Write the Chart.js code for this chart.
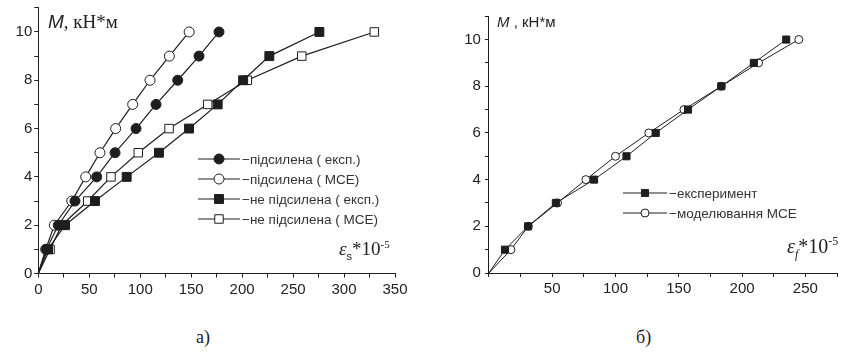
<!DOCTYPE html>
<html>
<head>
<meta charset="utf-8">
<script src="https://cdn.jsdelivr.net/npm/chart.js@4"></script>
<style>
  body { margin: 0; background: #fff; }
  #wrap { position: relative; width: 843px; height: 358px; overflow: hidden; }
  canvas { position: absolute; top: 0; }
  .lbl { position: absolute; color: #222; white-space: nowrap; line-height: 1; }
  .serif { font-family: "Liberation Serif", "DejaVu Serif", serif; }
  .sans { font-family: "Liberation Sans", Arial, sans-serif; }
  sub, sup { line-height: 0; }
</style>
</head>
<body>
<div id="wrap">
  <canvas id="left" width="420" height="300" style="left:0px"></canvas>
  <canvas id="right" width="413" height="300" style="left:430px"></canvas>

  <div class="lbl" style="left:48px; top:12px; font-size:19px;"><i class="sans">M</i><span class="serif">, кН*м</span></div>
  <div class="lbl sans" style="left:497px; top:14px; font-size:15px;"><i>M</i> , кН*м</div>

  <div class="lbl serif" style="left:339px; top:239px; font-size:19px;"><i>ε</i><sub class="sans" style="font-size:11px">s</sub>*10<sup style="font-size:11px">-5</sup></div>
  <div class="lbl serif" style="left:787px; top:236px; font-size:20px;"><i>ε</i><sub style="font-size:12px"><i>f</i></sub>*10<sup style="font-size:12px">-5</sup></div>

  <div class="lbl serif" style="left:196px; top:328px; font-size:18px;">а)</div>
  <div class="lbl serif" style="left:636px; top:328px; font-size:18px;">б)</div>
</div>
<script>
// bending moment levels, kN*m (same for every series)
const moment = [0, 1, 2, 3, 4, 5, 6, 7, 8, 9, 10];

// a) strain eps_s * 10^-5
const reinfExp   = [0, 8, 19.6, 36, 57.3, 75.3, 95.9, 115.5, 136.8, 157.7, 177.3];
const reinfFem   = [0, 7.2, 15.7, 32.8, 46.5, 60.5, 75.9, 92.6, 109.6, 128.6, 148];
const unreinfExp = [0, 9.5, 26.2, 55.6, 86.7, 118.4, 147.9, 176, 201, 226.7, 275.8];
const unreinfFem = [0, 11.5, 23, 48.5, 71.3, 98.1, 128.3, 166.2, 205.1, 258.5, 329.7];
const leftNames = ['−підсилена ( експ.)', '−підсилена ( МСЕ)', '−не підсилена ( експ.)', '−не підсилена ( МСЕ)'];

// б) strain eps_f * 10^-5
const fibreExp = [0, 12.7, 31, 52.9, 83.1, 108.7, 131.8, 157.3, 183.6, 209.3, 234.9];
const fibreFem = [0, 17.4, 31.1, 54.2, 76.6, 100, 126.3, 154.1, 183.6, 213, 244.8];
const rightNames = ['−експеримент', '−моделювання МСЕ'];

const ink = '#1e1e1e';
const tickFont = { family: '"Liberation Sans", Arial, sans-serif', size: 15 };

const pts = (xs) => xs.map((v, i) => ({ x: v, y: moment[i] }));

const series = (label, xs, style, filled, r, bw) => ({
    label: label,
    data: pts(xs),
    borderColor: ink,
    borderWidth: bw,
    pointStyle: style,
    pointBackgroundColor: filled ? ink : '#fff',
    pointBorderColor: ink,
    pointBorderWidth: 1,
    pointRadius: (c) => c.dataIndex === 0 ? 0 : r,
    legendRadius: r,
    tension: 0,
    clip: false
})

// legend drawn by hand: line with marker in the middle, text to the right
const sideLegend = {
    id: 'sideLegend',
    afterDraw(chart, args, o) {
        const ctx = chart.ctx
        ctx.save()
        chart.data.datasets.forEach((ds, i) => {
            const y = o.top + i * o.gap
            ctx.strokeStyle = ink
            ctx.lineWidth = ds.borderWidth
            ctx.beginPath()
            ctx.moveTo(o.left, y)
            ctx.lineTo(o.left + o.len, y)
            ctx.stroke()
            ctx.fillStyle = ds.pointBackgroundColor
            ctx.strokeStyle = ink
            ctx.lineWidth = 1
            Chart.helpers.drawPoint(ctx, { pointStyle: ds.pointStyle, radius: ds.legendRadius, rotation: 0, borderWidth: 1 }, o.left + o.len / 2, y)
            ctx.fillStyle = '#333'
            ctx.font = o.font
            ctx.textBaseline = 'middle'
            ctx.fillText(ds.label, o.left + o.len + 2, y + 1)
        })
        ctx.restore()
    }
}

const axes = (xMax, xLabel, yWidth, xHeight, tickPad) => ({
    x: {
        type: 'linear', min: 0, max: xMax,
        ticks: { stepSize: 25, autoSkip: false, maxRotation: 0, padding: 3, color: '#222', font: tickFont, callback: xLabel },
        grid: { drawOnChartArea: false, drawTicks: true, tickLength: 4, color: ink },
        border: { color: ink, width: 1 },
        afterFit: (s) => { s.height = xHeight; s.paddingLeft = 0; s.paddingRight = 0 }
    },
    y: {
        type: 'linear', min: 0, max: 11,
        ticks: { stepSize: 1, autoSkip: false, padding: tickPad, color: '#222', font: tickFont, callback: (v) => v % 2 === 0 ? v : '' },
        grid: { drawOnChartArea: false, drawTicks: true, tickLength: 4, color: ink },
        border: { color: ink, width: 1 },
        afterFit: (s) => { s.width = yWidth; s.paddingTop = 0; s.paddingBottom = 0 }
    }
})

new Chart(document.getElementById('left'), {
    type: 'line',
    data: {
        datasets: [
            series(leftNames[0], reinfExp, 'circle', true, 5, 1.2),
            series(leftNames[1], reinfFem, 'circle', false, 5, 1.2),
            series(leftNames[2], unreinfExp, 'rect', true, 6.3, 1.2),
            series(leftNames[3], unreinfFem, 'rect', false, 6, 1.2)
        ]
    },
    options: {
        responsive: false, animation: false, devicePixelRatio: 1,
        layout: { padding: { top: 7.8, right: 25, left: 0, bottom: 0 } },
        scales: axes(350, (v) => v % 50 === 0 ? v : '', 38.3, 26.5, 2),
        plugins: {
            legend: { display: false }, tooltip: { enabled: false },
            sideLegend: { left: 198, top: 159, gap: 20, len: 42, font: '13.5px "Liberation Sans", Arial, sans-serif' }
        }
    },
    plugins: [sideLegend]
})

new Chart(document.getElementById('right'), {
    type: 'line',
    data: {
        datasets: [
            series(rightNames[0], fibreExp, 'rect', true, 5, 1),
            series(rightNames[1], fibreFem, 'circle', false, 4, 1)
        ]
    },
    options: {
        responsive: false, animation: false, devicePixelRatio: 1,
        layout: { padding: { top: 16.2, right: 5.7, left: 0, bottom: 0 } },
        scales: axes(275, (v) => (v % 50 === 0 && v > 0) ? v : '', 58.9, 27, 4),
        plugins: {
            legend: { display: false }, tooltip: { enabled: false },
            sideLegend: { left: 193, top: 193, gap: 20, len: 44, font: '13.5px "Liberation Sans", Arial, sans-serif' }
        }
    },
    plugins: [sideLegend]
})
</script>
</body>
</html>
